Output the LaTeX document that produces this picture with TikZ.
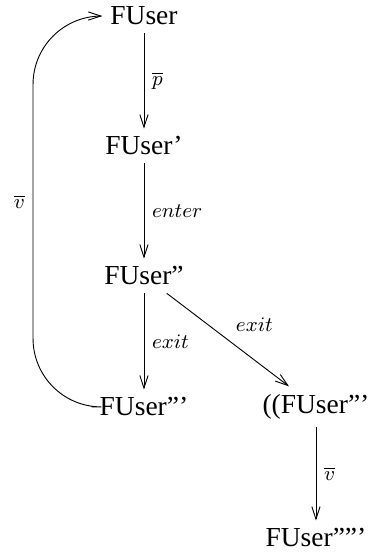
\documentclass[tikz,border=0pt]{standalone}
\usepackage{fontspec}
\setmainfont{Liberation Serif}
\usetikzlibrary{arrows.meta}
\begin{document}
\begin{tikzpicture}[>={Straight Barb[length=5.5pt,width=3.6pt]}, state/.style={font=\fontsize{12}{14}\selectfont}, lbl/.style={font=\fontsize{9}{11}\selectfont}]
\useasboundingbox (0,0) rectangle (5.695,8.596);

\node[state] at (2.21,8.35)(u1) {FUser};
\node[state] at (2.21,6.355)(u2) {FUser'};
\node[state] at (2.21,4.36)(u3) {FUser''};
\node[state] at (2.21,2.35)(u4) {FUser'''};
\node[state] at (4.85,2.35)(u5) {((FUser'''};
\node[state] at (4.85,0.338)(u6) {FUser'''''};

\coordinate (back) at (0.507,5.50);

\draw[->] (u1) -- node[lbl,right] {$\overline{p}$} (u2);
\draw[->] (u2) -- node[lbl,right] {$enter$} (u3);
\draw[->] (u3) -- node[lbl,right] {$exit$} (u4);
\draw[->] (u3) -- node[lbl,above right] {$exit$} (u5);
\draw[->] (u5) -- node[lbl,right] {$\overline{v}$} (u6);

\draw[->,rounded corners=1.05cm] (u4.west) -| (back) node[lbl,left] {$\overline{v}$} |- (u1.west);
\end{tikzpicture}
\end{document}
